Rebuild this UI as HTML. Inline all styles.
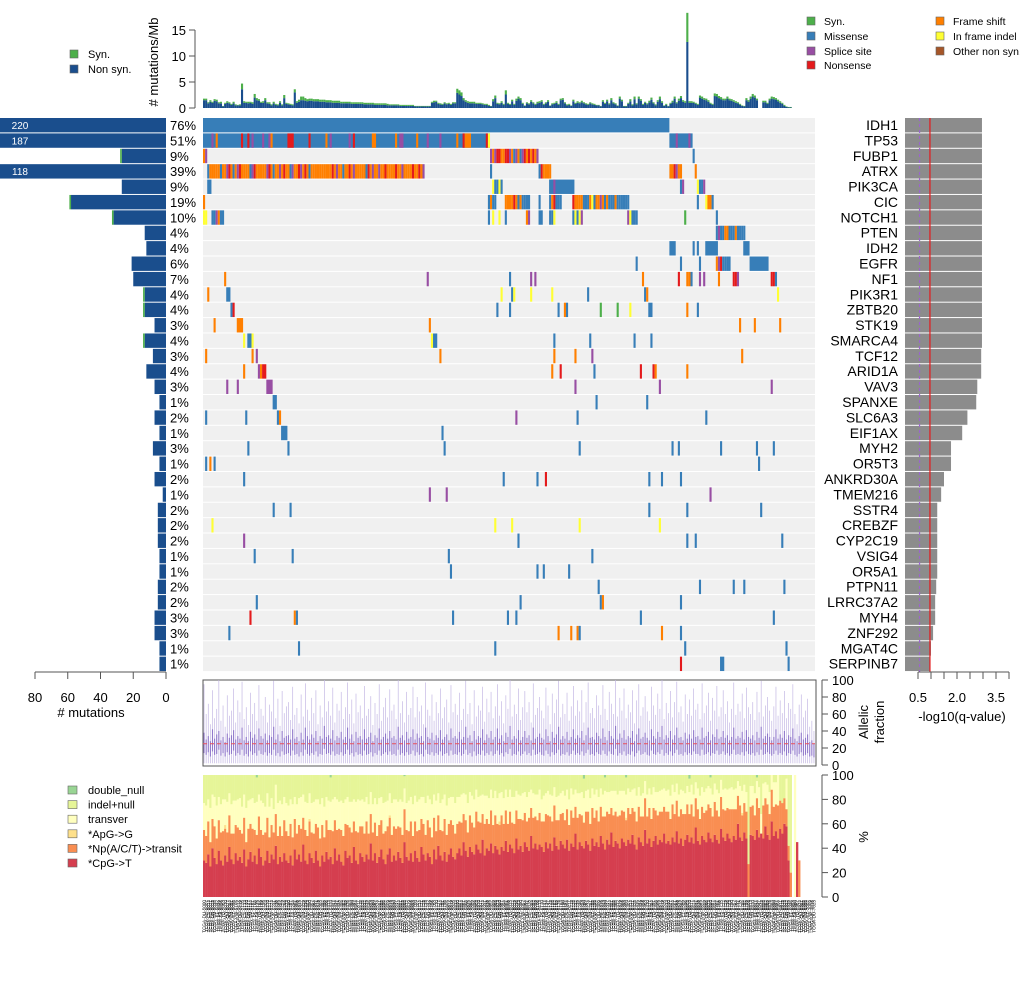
<!DOCTYPE html>
<html><head><meta charset="utf-8"><style>
html,body{margin:0;padding:0;background:#fff;}
svg{display:block;font-family:"Liberation Sans",sans-serif;}
</style></head><body>
<svg id="c" xmlns="http://www.w3.org/2000/svg" width="1020" height="1008" viewBox="0 0 1020 1008"></svg>
<script>
// ---------- data ----------
const genes=["IDH1","TP53","FUBP1","ATRX","PIK3CA","CIC","NOTCH1","PTEN","IDH2","EGFR","NF1","PIK3R1","ZBTB20","STK19","SMARCA4","TCF12","ARID1A","VAV3","SPANXE","SLC6A3","EIF1AX","MYH2","OR5T3","ANKRD30A","TMEM216","SSTR4","CREBZF","CYP2C19","VSIG4","OR5A1","PTPN11","LRRC37A2","MYH4","ZNF292","MGAT4C","SERPINB7"];
const pctLabels=["76%","51%","9%","39%","9%","19%","10%","4%","4%","6%","7%","4%","4%","3%","4%","3%","4%","3%","1%","2%","1%","3%","1%","2%","1%","2%","2%","2%","1%","1%","2%","2%","3%","3%","1%","1%"];
const nonsynCounts=[220,187,27,118,27,58,32,13,12,21,20,13,13,7,13,8,12,7,4,7,4,8,4,7,2,5,5,5,4,4,5,5,7,7,4,4];
const synCounts=[0,0,1,0,0,1,1,0,0,0,0,1,1,0,1,0,0,0,0,0,0,0,0,0,0,0,0,0,0,0,0,0,0,0,0,0];
const qValues=[2.96,2.96,2.96,2.96,2.96,2.96,2.96,2.96,2.96,2.96,2.96,2.96,2.96,2.96,2.96,2.93,2.93,2.78,2.74,2.4,2.2,1.77,1.77,1.5,1.39,1.24,1.24,1.24,1.24,1.24,1.2,1.16,1.16,1.08,1.0,0.96];
const qThreshold=0.96, qThreshold2=0.56;
// per-gene mutation segments: [start,end,type] or [start,"typestring"]
const muts=[
[[0,220,'M']],
[[0,135,'M'],[4,4,'S'],[6,6,'F'],[18,18,'N'],[21,21,'N'],[23,23,'S'],[28,28,'S'],[31,31,'S'],[32,32,'F'],[40,42,'N'],[50,50,'N'],[58,58,'F'],[60,60,'S'],[69,69,'S'],[71,71,'N'],[80,81,'F'],[91,91,'F'],[93,94,'S'],[101,101,'F'],[106,106,'S'],[112,112,'S'],[120,120,'F'],[123,123,'N'],[124,126,'F'],[134,134,'N'],[135,135,'I'],[221,231,'M'],[224,224,'S'],[230,230,'S']],
[[0,"FS"],[136,"SFSNNFFNNSFMSFMSNFNFNFS"],[232,232,'M']],
[[2,2,'M'],[3,"FFFFFMFFSNFMFSNFFFFMSNFFFFFSNFMFFSFNFFMSFFNSFNFMFFFFFFFFFFNFSFFMFFNFSFFFFFMNFSFFSFFNFFFFNFFSFFFFNFFNFS"],[136,136,'M'],[159,"MNFFFF"],[221,"FFNSFF"],[233,233,'F']],
[[2,3,'M'],[137,"IMMIM"],[164,175,'M'],[166,166,'S'],[226,"MS"],[234,"IMMS"]],
[[0,0,'F'],[135,"MFMM"],[143,"FFFFNFMFMMMM"],[159,159,'M'],[164,"MFNMMM"],[175,"NFFFFMMMFIMFFSFMFMMMFMMMMMM"],[234,234,'M'],[238,"IFFM"]],
[[0,"II"],[4,"MMSFMM"],[135,135,'M'],[137,137,'I'],[140,140,'I'],[143,143,'M'],[153,"FS"],[159,160,'M'],[164,"MMI"],[175,"MIMIS"],[201,"SIMMM"],[228,228,'G'],[243,243,'M']],
[[243,"MSMMFFMMMFMMMM"]],
[[221,223,'M'],[232,232,'M'],[234,234,'M'],[238,243,'M'],[256,258,'M']],
[[205,205,'M'],[226,226,'M'],[235,235,'M'],[243,"FSNMMMM"],[259,267,'M']],
[[10,10,'F'],[106,106,'S'],[145,145,'M'],[155,155,'S'],[157,157,'S'],[208,208,'F'],[225,225,'N'],[229,"FFM"],[235,235,'S'],[237,237,'S'],[244,244,'F'],[251,"NNS"],[269,"NNM"]],
[[2,2,'F'],[11,12,'M'],[141,141,'I'],[146,146,'M'],[147,147,'I'],[155,155,'I'],[165,165,'I'],[182,182,'M'],[209,209,'M'],[210,210,'F'],[272,272,'I']],
[[13,13,'M'],[14,14,'N'],[139,139,'M'],[145,145,'M'],[168,168,'M'],[171,171,'F'],[172,172,'M'],[188,188,'G'],[196,196,'G'],[202,202,'I'],[211,212,'M'],[229,229,'F'],[234,234,'M']],
[[5,5,'F'],[16,18,'F'],[107,107,'F'],[254,254,'F'],[261,261,'F'],[273,273,'F']],
[[19,19,'I'],[21,22,'M'],[23,23,'I'],[108,108,'I'],[109,110,'M'],[166,166,'M'],[183,183,'M'],[204,204,'M'],[212,212,'M']],
[[1,1,'F'],[23,23,'F'],[25,25,'S'],[112,112,'F'],[166,166,'F'],[176,176,'F'],[184,184,'S'],[255,255,'F']],
[[19,19,'F'],[26,26,'S'],[27,27,'F'],[28,29,'N'],[165,165,'F'],[169,169,'N'],[185,185,'M'],[207,207,'N'],[213,213,'N'],[214,214,'F'],[229,229,'F']],
[[11,11,'S'],[16,16,'S'],[30,32,'S'],[176,176,'S'],[216,216,'S'],[269,269,'S']],
[[33,34,'M'],[186,186,'M'],[210,210,'M']],
[[1,1,'M'],[20,20,'M'],[35,35,'M'],[36,36,'F'],[148,148,'S'],[177,177,'M'],[238,238,'M']],
[[37,39,'M'],[113,113,'M']],
[[21,21,'M'],[40,40,'M'],[114,114,'M'],[178,178,'M'],[222,222,'M'],[225,225,'M'],[245,245,'M'],[262,262,'M'],[270,270,'M']],
[[1,1,'M'],[3,3,'F'],[5,5,'M'],[263,263,'M']],
[[19,19,'M'],[142,142,'M'],[158,158,'M'],[162,162,'N'],[211,211,'M'],[217,217,'M'],[226,226,'M']],
[[107,107,'S'],[115,115,'S'],[240,240,'S']],
[[33,33,'M'],[41,41,'M'],[211,211,'M'],[229,229,'M'],[264,264,'M']],
[[4,4,'I'],[138,138,'I'],[146,146,'I'],[178,178,'I'],[216,216,'I']],
[[19,19,'S'],[149,149,'M'],[229,229,'M'],[233,233,'M'],[274,274,'M']],
[[24,24,'M'],[42,42,'M'],[116,116,'M'],[184,184,'M']],
[[117,117,'M'],[158,158,'M'],[161,161,'M'],[173,173,'M']],
[[187,187,'M'],[235,235,'M'],[251,251,'M'],[256,256,'M'],[275,275,'M']],
[[25,25,'M'],[150,150,'M'],[188,188,'M'],[189,189,'F'],[226,226,'M']],
[[22,22,'N'],[43,43,'F'],[44,44,'M'],[118,118,'M'],[144,144,'M'],[148,148,'M'],[207,207,'M'],[270,270,'M']],
[[12,12,'M'],[168,168,'F'],[174,174,'F'],[177,177,'F'],[178,178,'M'],[217,217,'F'],[226,226,'M']],
[[45,45,'M'],[138,138,'M'],[228,228,'M'],[276,276,'M']],
[[226,226,'N'],[245,246,'M'],[277,277,'M']]
];
// mutations per Mb per sample
const nonsynRate=[1.5,1.5,0.9,1.2,1.0,1.4,1.3,0.9,0.9,0.3,0.8,1.0,0.9,0.6,0.9,0.5,0.5,0.5,3.6,1.0,
1.0,0.9,1.0,0.8,2.0,1.5,1.4,1.0,1.0,1.5,0.9,0.8,0.5,0.9,0.6,0.5,1.0,0.5,1.9,0.8,
0.7,0.6,0.5,3.0,1.0,1.2,1.5,1.5,1.4,1.3,1.4,1.4,1.3,1.3,1.3,1.2,1.2,1.2,1.1,1.1,
1.1,1.0,1.0,1.0,1.0,0.9,0.9,0.9,0.9,0.9,0.8,0.8,0.8,0.8,0.8,0.8,0.7,0.7,0.7,0.7,
0.7,0.6,0.6,0.6,0.6,0.6,0.6,0.5,0.5,0.5,0.5,0.5,0.5,0.4,0.4,0.4,0.4,0.4,0.4,0.4,
0.3,0.3,0.3,0.3,0.3,0.3,0.3,0.3,1.0,1.1,1.2,0.8,0.7,0.6,0.9,0.7,0.8,0.6,0.9,0.9,
2.9,2.6,2.3,1.5,1.2,1.0,0.9,0.9,0.9,0.8,0.8,0.8,0.7,0.6,0.6,0.4,0.3,1.3,1.9,0.8,
0.7,1.0,0.6,2.6,0.8,0.6,1.3,0.6,1.4,1.8,1.5,0.8,0.4,0.9,0.7,1.2,0.9,0.6,0.9,1.0,
1.2,0.6,0.9,1.2,0.4,0.7,0.8,1.0,0.6,1.5,1.6,0.9,0.5,0.6,0.4,1.3,0.8,1.0,0.9,1.1,
0.9,0.7,0.6,0.9,0.7,0.6,0.5,0.5,0.3,1.2,0.8,1.3,0.7,1.5,0.9,0.7,0.4,1.8,1.3,0.3,
0.3,0.8,1.3,0.5,1.7,0.7,1.8,1.4,0.6,1.0,0.7,1.1,1.6,0.9,0.5,1.2,1.7,1.0,0.4,0.6,
0.3,0.8,1.1,1.8,0.9,1.4,1.9,1.2,1.0,12.7,1.0,1.0,1.0,0.8,0.6,2.0,1.8,1.6,1.5,1.2,
0.8,0.6,2.3,2.2,1.9,1.7,1.5,1.5,1.8,1.5,1.4,1.2,1.0,0.9,0.6,0.4,0.3,1.5,1.2,1.8,
2.2,2.0,1.5,0.0,0.0,1.1,1.1,0.8,1.5,1.8,1.7,1.6,1.3,1.0,0.8,0.4,0.2,0.1,0.1,0,
0,0,0,0,0,0,0,0,0,0];
const synRate=[0.3,0.3,0.2,0.3,0.2,0.3,0.3,0.2,0.3,0.1,0.2,0.3,0.2,0.2,0.3,0.2,0.1,0.2,1.1,0.3,
0.2,0.3,0.2,0.3,0.7,0.4,0.3,0.2,0.3,0.4,0.2,0.3,0.2,0.3,0.2,0.2,0.3,0.2,0.6,0.2,
0.2,0.2,0.2,0.6,0.3,0.4,0.7,0.7,0.5,0.4,0.4,0.4,0.4,0.4,0.4,0.4,0.4,0.4,0.4,0.4,
0.4,0.4,0.4,0.4,0.4,0.3,0.3,0.3,0.3,0.3,0.3,0.3,0.3,0.3,0.3,0.3,0.3,0.3,0.3,0.3,
0.3,0.3,0.3,0.3,0.3,0.3,0.3,0.3,0.2,0.2,0.2,0.2,0.2,0.2,0.2,0.2,0.2,0.2,0.2,0.2,
0.1,0.1,0.1,0.1,0.1,0.1,0.1,0.1,0.2,0.3,0.2,0.2,0.2,0.2,0.2,0.2,0.2,0.2,0.2,0.2,
0.8,0.8,0.7,0.4,0.3,0.3,0.3,0.3,0.3,0.2,0.2,0.2,0.2,0.2,0.2,0.2,0.1,0.4,0.5,0.2,
0.2,0.3,0.2,0.8,0.2,0.2,0.3,0.2,0.4,0.4,0.4,0.2,0.1,0.2,0.2,0.3,0.2,0.2,0.3,0.3,
0.3,0.2,0.2,0.3,0.1,0.2,0.2,0.3,0.2,0.3,0.3,0.2,0.2,0.2,0.1,0.3,0.2,0.3,0.2,0.3,
0.2,0.2,0.2,0.2,0.2,0.2,0.1,0.1,0.1,0.3,0.2,0.3,0.2,0.4,0.2,0.2,0.1,0.4,0.3,0.1,
0.1,0.2,0.4,0.2,0.5,0.2,0.4,0.3,0.2,0.2,0.2,0.3,0.4,0.2,0.2,0.3,0.5,0.3,0.1,0.2,
0.1,0.2,0.3,0.4,0.2,0.4,0.4,0.3,0.3,5.6,0.3,0.3,0.2,0.2,0.2,0.4,0.4,0.3,0.3,0.3,
0.2,0.2,0.5,0.5,0.4,0.4,0.3,0.3,0.4,0.3,0.3,0.3,0.3,0.2,0.2,0.1,0.1,0.4,0.3,0.4,
0.5,0.4,0.3,0,0,0.3,0.3,0.2,0.3,0.4,0.4,0.3,0.3,0.3,0.2,0.2,0.1,0.1,0.1,0,
0,0,0,0,0,0,0,0,0,0];
// allelic fraction per sample
const afHi=[95,60,72,48,88,55,66,100,52,70,45,82,58,64,90,50,76,62,98,54,68,47,85,60,73,52,94,66,58,80,50,71,63,99,55,78,46,87,61,69,74,53,92,59,67,49,83,57,96,65,52,79,61,88,48,70,56,100,63,75,58,91,50,72,64,86,54,68,97,60,77,49,84,62,70,55,93,58,66,81,47,73,60,95,52,68,79,56,89,64,71,54,100,61,75,50,86,59,67,92,56,80,63,70,48,97,65,58,83,52,74,61,90,55,68,77,50,94,62,72,59,85,53,66,99,60,73,48,88,57,70,64,92,51,78,62,86,55,69,95,58,75,49,82,66,100,57,71,60,90,53,68,87,62,74,50,96,59,67,80,64,55,91,70,48,84,61,77,99,56,72,60,85,52,69,93,58,76,63,88,50,74,97,61,67,55,82,70,59,94,66,53,86,72,60,100,57,79,64,90,55,71,62,88,49,76,95,58,68,81,63,52,92,70,59,84,66,100,54,73,61,87,56,74,98,62,69,51,83,60,77,58,90,65,72,54,96,61,70,85,52,79,64,93,57,68,88,60,75,50,66,97,59,72,63,84,55,91,68,60,74,53,86,62,99,57,70,80,64,52,69,92,58,76,61,87,55,73,66,95,60,48,71,83,56,64,78,45,52,40];
const afQ3=[38,30,34,28,42,31,36,40,29,33,27,37,32,35,41,30,34,31,44,29,33,28,39,32,36,30,43,34,31,37,29,35,33,45,30,36,28,40,32,34,35,30,42,31,33,28,38,30,44,34,30,36,32,40,28,34,31,46,33,35,31,41,29,34,32,39,30,33,44,31,36,28,39,32,34,30,42,31,33,38,28,35,32,43,30,33,37,31,40,32,34,30,45,32,35,29,39,31,33,42,30,37,32,34,28,44,33,31,38,29,35,32,41,30,33,36,29,43,32,34,31,39,30,33,45,32,35,28,40,30,34,32,42,29,36,32,40,30,33,43,31,35,28,38,33,46,30,34,31,41,29,33,40,32,35,29,44,31,33,37,32,30,42,34,28,39,32,36,45,30,34,31,39,29,33,42,31,35,32,40,29,35,44,32,33,30,38,34,31,43,33,29,40,34,31,46,30,37,32,41,30,34,32,40,28,36,43,31,33,38,32,29,42,34,31,39,33,46,30,35,32,40,30,35,44,32,33,29,38,31,36,31,41,33,34,30,44,32,34,39,29,36,33,42,31,33,40,32,35,29,33,44,31,34,32,39,30,41,33,31,35,29,39,32,45,31,34,37,33,29,33,42,31,36,32,40,30,35,33,43,31,28,34,38,30,32,36,27,29,25];
const afQ1=[14,12,15,10,16,12,13,18,11,14,10,15,12,13,17,11,14,12,18,11,13,10,16,12,14,11,17,13,12,15,11,14,12,18,11,14,10,16,12,13,14,11,17,12,13,10,15,11,18,13,11,14,12,16,10,13,12,19,13,14,12,16,11,13,12,15,11,13,18,12,14,10,15,12,13,11,17,12,13,15,10,14,12,17,11,13,15,12,16,12,13,11,18,12,14,11,15,12,13,17,11,15,12,13,10,18,13,12,15,11,14,12,16,11,13,14,11,17,12,13,12,15,11,13,18,12,14,10,16,11,13,12,17,11,14,12,16,11,13,17,12,14,10,15,13,19,11,13,12,16,11,13,16,12,14,11,18,12,13,15,12,11,17,13,10,15,12,14,18,11,13,12,15,11,13,17,12,14,12,16,11,14,18,12,13,11,15,13,12,17,13,11,16,13,12,19,11,14,12,16,11,13,12,16,10,14,17,12,13,15,12,11,17,13,12,15,13,18,11,14,12,16,11,14,18,12,13,11,15,12,14,12,16,13,13,11,18,12,13,15,11,14,13,17,12,13,16,12,14,11,13,18,12,13,12,15,11,16,13,12,14,11,15,12,18,12,13,15,13,11,13,17,12,14,12,16,11,14,13,17,12,10,13,15,11,12,14,10,11,9];
// mutation spectrum (% per sample)
const cpgT=[30,28,35,25,40,32,27,38,30,26,34,29,41,31,27,36,30,33,28,39,25,31,37,29,34,27,40,33,26,30,38,28,35,31,42,27,33,29,36,30,28,34,26,39,31,35,29,43,30,27,36,32,28,38,30,25,34,29,37,31,33,27,40,30,35,29,26,38,32,34,28,41,30,27,36,33,29,35,31,44,30,36,28,33,39,31,27,35,40,29,34,30,37,32,28,45,33,30,36,29,38,32,29,41,35,30,36,33,27,39,31,42,34,30,37,29,35,40,33,31,36,40,34,45,38,33,41,37,35,43,39,36,47,34,40,38,44,36,42,39,35,41,38,46,37,43,40,36,48,39,42,37,45,41,38,50,40,44,39,43,41,37,45,40,44,38,49,42,39,46,43,40,47,38,44,41,52,39,45,42,40,46,43,38,48,42,45,41,50,44,39,47,43,53,41,46,44,40,48,45,42,47,44,51,43,39,49,45,42,55,44,48,41,46,50,43,47,45,52,44,46,43,49,45,54,44,48,42,47,51,45,49,44,57,46,43,50,47,45,53,48,45,51,47,44,56,49,46,52,48,45,50,47,60,49,46,53,48,0,51,50,47,55,49,52,48,58,51,47,62,50,54,48,56,52,60,58,30,0,0,0,45,0,0,0,0];
const npTransit=[25,22,27,20,24,26,21,25,23,28,22,24,26,21,25,23,27,22,24,26,20,25,23,27,21,24,26,22,25,23,27,21,24,22,26,23,25,21,27,24,22,26,23,25,21,24,27,22,25,23,26,21,24,22,27,23,25,20,26,24,22,27,23,25,21,26,24,22,27,23,25,21,24,26,22,25,23,27,21,24,23,25,22,26,24,21,27,23,25,22,24,26,21,25,23,27,22,24,26,21,24,22,26,23,25,21,27,24,22,26,23,25,21,24,27,22,25,23,26,21,24,22,27,23,25,20,26,24,22,27,23,25,21,26,24,22,27,23,25,21,24,26,22,25,23,27,21,24,23,25,22,26,24,21,27,23,25,22,24,26,21,25,23,27,22,24,26,21,24,22,26,23,25,21,27,24,22,26,23,25,21,24,27,22,25,23,26,21,24,22,27,23,25,20,26,24,22,27,23,25,21,26,24,22,27,23,25,21,24,26,22,25,23,27,21,24,23,25,22,26,24,21,27,23,25,22,24,26,21,25,23,27,22,24,26,21,24,22,26,23,25,21,27,24,22,26,23,25,21,24,27,22,25,23,26,21,24,22,27,23,25,20,26,24,0,27,23,25,21,26,24,22,27,23,25,21,14,12,20,0,0,0,30,0,0,0,0];
const transver=[22,25,18,28,20,24,27,19,23,26,21,25,18,24,27,20,23,26,22,19,28,23,20,25,22,27,18,24,26,21,20,25,22,19,24,27,21,26,19,23,25,20,27,18,24,22,26,19,23,27,21,24,26,20,23,28,22,25,19,24,23,26,19,25,22,24,27,20,23,21,25,18,24,27,21,22,26,20,24,18,23,20,26,22,19,25,24,21,18,26,22,24,20,23,27,17,22,25,20,26,21,24,25,18,22,26,20,23,27,19,25,18,22,26,20,24,21,19,23,25,22,20,23,17,21,24,19,22,23,18,20,22,16,23,19,21,17,22,20,21,23,19,21,17,22,18,21,22,16,20,19,22,17,20,21,15,20,18,21,19,18,21,17,20,18,21,15,19,20,17,18,20,16,21,18,19,14,20,17,19,20,17,18,21,16,19,17,20,15,18,21,16,18,14,20,17,18,20,16,17,19,16,18,15,19,21,16,17,19,14,18,16,20,17,15,19,17,18,15,17,18,19,16,18,14,18,16,19,17,15,18,16,18,13,17,19,16,17,18,15,16,18,15,17,19,14,16,18,15,17,18,16,17,12,16,18,15,16,0,17,16,18,14,17,16,18,13,16,18,12,20,18,25,0,0,0,25,0,0,0,100];
const apgG=[[10,3],[50,2],[88,2],[140,3],[200,2],[255,2]];
const doubleNull=[[25,2],[60,2],[95,1],[180,3],[190,2],[200,2],[230,3],[240,2],[262,2]];
const nSamples=290;
const sampleCodes=["DU","HT","CS","FG","DB","TM","E1","P5","S9","TQ","WY","QH","R8","VM","EZ","VW","IK"];

// ---------- scales ----------
const X0=203, XW=612, W=XW/nSamples;
const sx=i=>X0+i*W;
const RT=118, RH=15.39;
const ry=k=>RT+k*RH;
const ty=v=>108-v*5.2;
const lx=c=>166-c*1.6375;
const qx=v=>905+v*26;
const ay=v=>765-v*0.85;
const by=v=>897-v*1.22;
const COL={M:"#377eb8",F:"#ff7f00",N:"#e41a1c",S:"#984ea3",I:"#ffff33",G:"#4daf4a",O:"#a65628"};
const NS="http://www.w3.org/2000/svg";
const svg=document.getElementById('c');
function mk(tag,attrs,parent){const e=document.createElementNS(NS,tag);for(const k in attrs)e.setAttribute(k,attrs[k]);(parent||svg).appendChild(e);return e;}
function tx(str,attrs,parent){const e=mk('text',attrs,parent);e.textContent=str;return e;}

// ---------- top legend ----------
const lg=[["Syn.","G",807,22],["Missense","M",807,37],["Splice site","S",807,52],["Nonsense","N",807,66],["Frame shift","F",936,22],["In frame indel","I",936,37],["Other non syn.","O",936,52]];
lg.forEach(l=>{
  const r=mk('rect',{x:l[2],y:l[3]-5,width:8,height:8,fill:COL[l[1]],stroke:"#666","stroke-width":0.6});
  
  
  const t=tx(l[0],{x:l[2]+17,y:l[3]+3,"font-size":10.5,fill:"#000"});
  
  
});
[["Syn.","#4daf4a",50],["Non syn.","#1a4e8d",65]].forEach(l=>{
  const r=mk('rect',{x:70,y:l[2],width:8,height:8,fill:l[1],stroke:"#666","stroke-width":0.6});
  
  
  const t=tx(l[0],{x:88,y:l[2]+8,"font-size":11});
  
  
});

// ---------- top rate chart ----------
const ta=mk('g',{});


mk('line',{x1:195,y1:ty(0),x2:195,y2:ty(15),stroke:"#555"},ta);
[0,5,10,15].forEach(v=>{mk('line',{x1:189,y1:ty(v),x2:195,y2:ty(v),stroke:"#555"},ta);tx(String(v),{x:186,y:ty(v)+5,"font-size":13,"text-anchor":"end"},ta);});
const tyt=tx("# mutations/Mb",{x:0,y:0,"font-size":13,"text-anchor":"middle",transform:"translate(158,62) rotate(-90)"});


for(let i=0;i<nSamples;i++){
  const a=nonsynRate[i], b=synRate[i];
  if(a>0){const r=mk('rect',{x:sx(i),y:ty(a),width:W,height:ty(0)-ty(a),fill:"#1a4e8d"});
    
    }
  if(b>0&&a>0){const r=mk('rect',{x:sx(i),y:ty(a+b),width:W,height:ty(a)-ty(a+b),fill:"#4daf4a"});
    
    }
}

// ---------- matrix ----------
genes.forEach((g,k)=>{
  const bg=mk('rect',{x:X0,y:ry(k),width:XW,height:RH-1,fill:"#f0f0f0"});
  
  
  muts[k].forEach(seg=>{
    if(typeof seg[1]==="string"){
      for(let j=0;j<seg[1].length;j++){
        const r=mk('rect',{x:sx(seg[0]+j),y:ry(k),width:W,height:RH-1,fill:COL[seg[1][j]]});
        
        
      }
    } else {
      const r=mk('rect',{x:sx(seg[0]),y:ry(k),width:(seg[1]-seg[0]+1)*W,height:RH-1,fill:COL[seg[2]]});
      
      
    }
  });
  const gl=tx(g,{x:898,y:ry(k)+12,"font-size":14,"text-anchor":"end"});
  
  
  const pl=tx(pctLabels[k],{x:170,y:ry(k)+12,"font-size":13});
  
  
  // left bars
  const c=nonsynCounts[k], s=synCounts[k];
  const lb=mk('rect',{x:Math.max(0,lx(c)),y:ry(k),width:166-Math.max(0,lx(c)),height:RH-1,fill:"#1a4e8d"});
  
  
  if(s>0){const sb=mk('rect',{x:lx(c+s),y:ry(k),width:lx(c)-lx(c+s),height:RH-1,fill:"#4daf4a"});
    
    }
  if(lx(c)<0){const ct=tx(String(c),{x:20,y:ry(k)+11,"font-size":10,fill:"#fff","text-anchor":"middle"});
    
    }
  // q bars
  const qb=mk('rect',{x:905,y:ry(k),width:qx(qValues[k])-905,height:RH-1,fill:"#8c8c8c"});
  
  
});
const rl=mk('line',{x1:qx(qThreshold),y1:RT,x2:qx(qThreshold),y2:672,stroke:"#e41a1c","stroke-width":1.2});


const pl2=mk('line',{x1:qx(qThreshold2),y1:RT,x2:qx(qThreshold2),y2:672,stroke:"#9966cc","stroke-width":1.2,"stroke-dasharray":"3,3"});



// left axis
const la=mk('g',{});


mk('line',{x1:lx(80),y1:672,x2:lx(0),y2:672,stroke:"#555"},la);
[80,60,40,20,0].forEach(v=>{mk('line',{x1:lx(v),y1:672,x2:lx(v),y2:679,stroke:"#555"},la);tx(String(v),{x:lx(v),y:702,"font-size":13,"text-anchor":"middle"},la);});
const lat=tx("# mutations",{x:91,y:717,"font-size":13,"text-anchor":"middle"});


// right axis
const qa=mk('g',{});


mk('line',{x1:qx(0.5),y1:672,x2:qx(4),y2:672,stroke:"#555"},qa);
[0.5,1,1.5,2,2.5,3,3.5,4].forEach(v=>mk('line',{x1:qx(v),y1:672,x2:qx(v),y2:679,stroke:"#555"},qa));
["0.5","2.0","3.5"].forEach(s=>tx(s,{x:qx(parseFloat(s)),y:702,"font-size":13,"text-anchor":"middle"},qa));
const qat=tx("-log10(q-value)",{x:962,y:721,"font-size":13,"text-anchor":"middle"});



// ---------- allelic fraction ----------
const afb=mk('rect',{x:X0,y:680,width:XW+1,height:86,fill:"none",stroke:"#555"});


for(let i=0;i<nSamples;i++){
  const cx=sx(i)+W/2;
  const wl=mk('line',{x1:cx,y1:ay(afHi[i]),x2:cx,y2:ay(2),stroke:"#c4b8e4","stroke-width":0.7});
  
  
  const bx=mk('rect',{x:sx(i)+0.5,y:ay(afQ3[i]),width:W-1,height:ay(afQ1[i])-ay(afQ3[i]),fill:"#7a5cc0","fill-opacity":0.75});
  
  
}
const med=mk('line',{x1:X0,y1:ay(25),x2:X0+XW,y2:ay(25),stroke:"#e8505b","stroke-dasharray":"4,3","stroke-width":1});


const aa=mk('g',{});


mk('line',{x1:822,y1:ay(0),x2:822,y2:ay(100),stroke:"#555"},aa);
[0,20,40,60,80,100].forEach(v=>{mk('line',{x1:822,y1:ay(v),x2:828,y2:ay(v),stroke:"#555"},aa);tx(String(v),{x:832,y:ay(v)+5,"font-size":13},aa);});
const aft=tx("Allelic",{x:0,y:0,"font-size":13,"text-anchor":"middle",transform:"translate(868,722) rotate(-90)"});


const aft2=tx("fraction",{x:0,y:0,"font-size":13,"text-anchor":"middle",transform:"translate(884,722) rotate(-90)"});



// ---------- spectrum ----------
const SC={cpg:"#d53e4f",np:"#f98e52",apg:"#fee08b",tv:"#ffffbf",indel:"#e6f598",dn:"#99d594"};
const apgMap={}, dnMap={};
apgG.forEach(p=>apgMap[p[0]]=p[1]);
doubleNull.forEach(p=>dnMap[p[0]]=p[1]);
for(let i=0;i<nSamples;i++){
  const a=cpgT[i], b=npTransit[i], c=apgMap[i]||0, d=transver[i], e=dnMap[i]||0;
  if(a+b+c+d===0) continue;
  const rest=Math.max(0,100-a-b-c-d-e);
  const parts=[[a,SC.cpg,'spectrum-cpg-t'],[b,SC.np,'spectrum-np-transit'],[c,SC.apg,'spectrum-apg-g'],[d,SC.tv,'spectrum-transver'],[rest,SC.indel,'spectrum-indel-null'],[e,SC.dn,'spectrum-double-null']];
  let acc=0;
  parts.forEach(p=>{
    if(p[0]<=0) return;
    const r=mk('rect',{x:sx(i),y:by(acc+p[0]),width:W+0.2,height:by(acc)-by(acc+p[0]),fill:p[1]});
    
    
    acc+=p[0];
  });
}
const sa=mk('g',{});


mk('line',{x1:822,y1:by(0),x2:822,y2:by(100),stroke:"#555"},sa);
[0,20,40,60,80,100].forEach(v=>{mk('line',{x1:822,y1:by(v),x2:828,y2:by(v),stroke:"#555"},sa);tx(String(v),{x:832,y:by(v)+5,"font-size":13},sa);});
const st=tx("%",{x:0,y:0,"font-size":13,"text-anchor":"middle",transform:"translate(868,837) rotate(-90)"});


const sl=[["double_null",SC.dn],["indel+null",SC.indel],["transver",SC.tv],["*ApG->G",SC.apg],["*Np(A/C/T)->transit",SC.np],["*CpG->T",SC.cpg]];
sl.forEach((l,j)=>{
  const y=786+j*14.6;
  const r=mk('rect',{x:68,y:y,width:9,height:8,fill:l[1],stroke:"#666","stroke-width":0.6});
  
  
  const t=tx(l[0],{x:88,y:y+8,"font-size":11});
  
  
});

// ---------- sample labels ----------
for(let i=0;i<nSamples;i++){
  const id="TCGA-"+sampleCodes[i%sampleCodes.length]+"-"+String(5000+i*7).slice(0,4);
  const t=tx(id,{x:0,y:0,"font-size":4.6,"text-anchor":"end",transform:"translate("+(sx(i)+W/2+1.6)+",900) rotate(-90)"});
  
  
}
</script>
</body></html>
